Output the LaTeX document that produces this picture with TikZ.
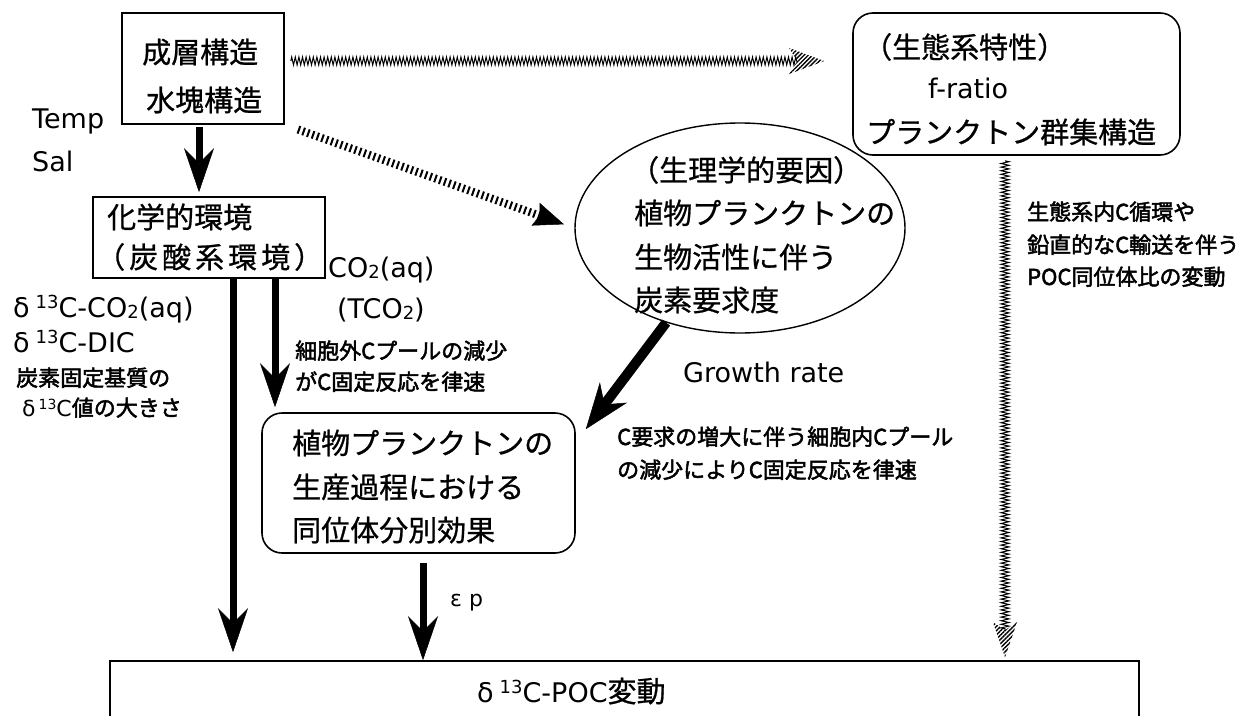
\documentclass[tikz,border=0pt]{standalone}
\usepackage{fontspec}
\setmainfont{DejaVu Sans}
\newfontfamily\jp{Noto Sans CJK JP}[FakeBold=0.8]
\newfontfamily\jpb{Noto Sans CJK JP}[FakeBold=2.2]
\usetikzlibrary{arrows.meta,decorations.pathmorphing,patterns.meta,calc,shapes.geometric}
\newcommand\subtwo{\raisebox{-1pt}{\fontsize{18}{18}\selectfont 2}}
\newcommand\dthirteen{δ\kern6pt\raisebox{9pt}{\fontsize{18}{18}\selectfont 13}}
\tikzset{
  box/.style={draw, line width=1.6pt, inner sep=0pt},
  rbox/.style={box, rounded corners=20pt},
  jtxt/.style={inner sep=0pt, anchor=base west, font=\jp\fontsize{29}{29}\selectfont},
  ltxt/.style={inner sep=0pt, anchor=base west, font=\fontsize{27}{27}\selectfont},
  note/.style={inner sep=0pt, anchor=base west, font=\jpb\fontsize{22}{22}\selectfont},
  bigarrow/.style={line width=7pt, -{Stealth[length=44pt,width=30pt,inset=15pt,line width=0.5pt]}},
  hatch/.style={line width=1pt, decoration={zigzag, segment length=3.6pt, amplitude=4pt}, decorate},
  hatchhead/.style={pattern={Lines[angle=45,distance=3pt,line width=1.4pt]}},
  tickline/.style={line width=8pt, dash pattern=on 2pt off 3pt, -{Stealth[length=30pt,width=24pt,inset=4pt,line width=0.5pt]}},
}
\begin{document}
\begin{tikzpicture}[x=1pt, y=-1pt]
\useasboundingbox (0,0) rectangle (1249,715);
\fill[white] (0,0) rectangle (1249,715);
\clip (0,0) rectangle (1249,715);

% boxes
\node[box, minimum width=162pt, minimum height=111pt] (A) at (203,68.5) {};
\node[box, minimum width=232pt, minimum height=81pt] (B) at (209,237.5) {};
\node[rbox, minimum width=327pt, minimum height=142pt] (D) at (1016.5,84) {};
\node[draw, ellipse, line width=1.4pt, minimum width=330pt, minimum height=210pt, inner sep=0pt] (E) at (740,228) {};
\node[rbox, minimum width=313pt, minimum height=140pt] (C) at (418.5,483) {};
\node[box, minimum width=1029pt, minimum height=100pt] (P) at (624.5,711) {};

% texts
\node[jtxt] (a1) at (142,63) {成層構造};
\node[jtxt] (a2) at (146,111) {水塊構造};
\node[ltxt] (temp) at (32,128) {Temp};
\node[ltxt] (sal) at (32,171) {Sal};
\node[jtxt] (b1) at (107,228) {化学的環境};
\node[jtxt] (b2) at (96,268) {（\kern4pt炭\kern4pt酸\kern4pt系\kern4pt環\kern4pt境\kern4pt）};
\node[ltxt] (co2) at (328,277) {CO\subtwo(aq)};
\node[ltxt] (tco2) at (337,318) {(TCO\subtwo)};
\node[ltxt] (dl1) at (13,317) {\dthirteen C-CO\subtwo(aq)};
\node[ltxt] (dl2) at (13,352) {\dthirteen C-DIC};
\node[note] (n1) at (16,386) {炭素固定基質の};
\node[note] (n2) at (22,416) {{\rmfamily δ\kern3pt\raisebox{7pt}{\fontsize{14}{14}\selectfont 13}C}値の大きさ};
\node[note] (n3) at (295,359) {細胞外Cプールの減少};
\node[note] (n4) at (295,390) {がC固定反応を律速};
\node[jtxt] (e1) at (630,181) {（生理学的要因）};
\node[jtxt] (e2) at (634,224) {植物プランクトンの};
\node[jtxt] (e3) at (634,268) {生物活性に伴う};
\node[jtxt] (e4) at (634,311) {炭素要求度};
\node[jtxt] (dt1) at (863,58) {（生態系特性）};
\node[ltxt] (fr) at (928,98) {f-ratio};
\node[jtxt] (dt3) at (866,143) {プランクトン群集構造};
\node[note] (r1) at (1027,220) {生態系内C循環や};
\node[note] (r2) at (1027,253) {鉛直的なC輸送を伴う};
\node[note] (r3) at (1027,285) {POC同位体比の変動};
\node[ltxt] (gr) at (683,382) {Growth rate};
\node[note] (g1) at (617,445) {C要求の増大に伴う細胞内Cプール};
\node[note] (g2) at (617,478) {の減少によりC固定反応を律速};
\node[jtxt] (c1) at (292,454) {植物プランクトンの};
\node[jtxt] (c2) at (292,498) {生産過程における};
\node[jtxt] (c3) at (292,541) {同位体分別効果};
\node[ltxt, font=\fontsize{22}{22}\selectfont] (ep) at (450,606) {ε p};
\node[ltxt] (pt) at (477,702) {\dthirteen C-POC{\jp\fontsize{29}{29}\selectfont 変動}};

% helper coordinates
\coordinate (xa) at (199,0);
\coordinate (xl) at (233,0);
\coordinate (xm) at (275,0);
\coordinate (xep) at (423,0);
\coordinate (xv) at (1005,0);
\coordinate (yh) at (0,61);
\coordinate (ctip) at ($(C.north east)+(10,17)$);

% solid arrows
\draw[bigarrow, shorten <=2pt, shorten >=4pt] (xa |- A.south) -- (xa |- B.north);
\draw[bigarrow, shorten >=8pt] (xl |- B.south) -- (xl |- P.north);
\draw[bigarrow, shorten >=5pt] (xm |- B.south) -- (xm |- C.north);
\draw[bigarrow, shorten <=9pt] (xep |- C.south) -- (xep |- P.north);
\draw[line width=10pt, -{Stealth[length=46pt,width=34pt,inset=15pt,line width=0.5pt]}] (E.232) -- (ctip);

% hatched horizontal arrow
\coordinate (hs) at ($(A.east |- yh)+(6,0)$);
\coordinate (ht) at ($(D.west |- yh)+(-28,0)$);
\coordinate (hn) at ($(ht)+(-27,0)$);
\draw[hatch] (hs) -- (hn);
\fill[hatchhead] (ht) -- ++(-35,-13) -- ++(8,13) -- ++(-8,13) -- cycle;

% hatched vertical arrow
\coordinate (vs) at ($(xv |- D.south)+(0,5)$);
\coordinate (vt) at ($(xv |- P.north)+(0,-3)$);
\coordinate (vn) at ($(vt)+(0,-27)$);
\draw[hatch] (vs) -- (vn);
\fill[hatchhead] (vt) -- ++(-12,-35) -- ++(12,8) -- ++(12,-8) -- cycle;

% tick-dashed diagonal arrow
\draw[tickline, shorten <=14pt, shorten >=11pt] (A.south east) -- (E.west);
\end{tikzpicture}
\end{document}
